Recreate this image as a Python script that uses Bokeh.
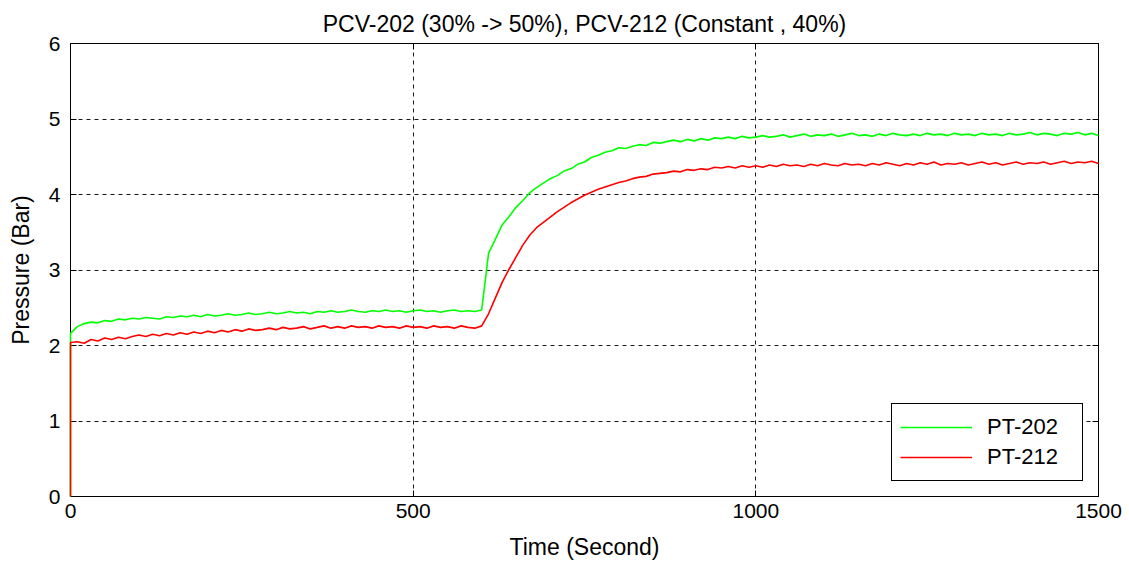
from bokeh.plotting import figure
from bokeh.models import LinearAxis, Legend, LegendItem, FixedTicker, Range1d
from bokeh.embed import file_html
from bokeh.resources import INLINE

# Sample times (s): a leading 0 for the initial jump, then every 10 s
time_s = [0] + list(range(0, 1501, 10))

pt_202 = [0.0,
    2.16, 2.25, 2.29, 2.31, 2.30, 2.33, 2.32, 2.35, 2.34, 2.36,
    2.35, 2.37, 2.36, 2.35, 2.38, 2.37, 2.39, 2.38, 2.40, 2.38,
    2.41, 2.39, 2.40, 2.42, 2.40, 2.41, 2.43, 2.41, 2.42, 2.44,
    2.42, 2.43, 2.45, 2.43, 2.44, 2.42, 2.45, 2.44, 2.46, 2.44,
    2.45, 2.47, 2.45, 2.44, 2.46, 2.45, 2.47, 2.45, 2.46, 2.44,
    2.46, 2.47, 2.45, 2.46, 2.44, 2.46, 2.47, 2.45, 2.46, 2.45,
    2.47, 3.22, 3.41, 3.60, 3.71, 3.83, 3.92, 4.02, 4.09, 4.15,
    4.21, 4.25, 4.31, 4.34, 4.40, 4.43, 4.49, 4.52, 4.56, 4.58,
    4.62, 4.61, 4.64, 4.66, 4.65, 4.69, 4.68, 4.70, 4.72, 4.70,
    4.73, 4.71, 4.74, 4.72, 4.75, 4.74, 4.76, 4.74, 4.77, 4.75,
    4.76, 4.78, 4.76, 4.77, 4.79, 4.76, 4.78, 4.80, 4.77, 4.79,
    4.78, 4.80, 4.77, 4.79, 4.81, 4.78, 4.79, 4.77, 4.80, 4.78,
    4.81, 4.79, 4.78, 4.80, 4.78, 4.81, 4.79, 4.80, 4.78, 4.81,
    4.79, 4.80, 4.78, 4.81, 4.79, 4.80, 4.78, 4.81, 4.79, 4.80,
    4.82, 4.79, 4.81, 4.80, 4.78, 4.81, 4.80, 4.82, 4.79, 4.81,
    4.78]

pt_212 = [0.0,
    2.04, 2.05, 2.03, 2.08, 2.06, 2.10, 2.08, 2.11, 2.09, 2.12,
    2.14, 2.12, 2.15, 2.13, 2.16, 2.14, 2.17, 2.15, 2.18, 2.16,
    2.19, 2.17, 2.20, 2.18, 2.21, 2.19, 2.22, 2.20, 2.21, 2.23,
    2.21, 2.24, 2.22, 2.23, 2.25, 2.22, 2.24, 2.26, 2.23, 2.25,
    2.23, 2.26, 2.24, 2.25, 2.23, 2.26, 2.24, 2.25, 2.23, 2.26,
    2.24, 2.25, 2.23, 2.26, 2.24, 2.25, 2.23, 2.26, 2.24, 2.23,
    2.26, 2.42, 2.63, 2.84, 3.01, 3.17, 3.33, 3.46, 3.56, 3.63,
    3.70, 3.77, 3.83, 3.89, 3.94, 3.99, 4.03, 4.07, 4.10, 4.13,
    4.16, 4.18, 4.21, 4.23, 4.24, 4.27, 4.28, 4.29, 4.31, 4.30,
    4.33, 4.32, 4.34, 4.33, 4.36, 4.35, 4.37, 4.35, 4.38, 4.36,
    4.38, 4.36, 4.39, 4.37, 4.40, 4.38, 4.39, 4.37, 4.40, 4.38,
    4.41, 4.39, 4.38, 4.41, 4.39, 4.40, 4.38, 4.41, 4.39, 4.42,
    4.40, 4.38, 4.41, 4.39, 4.42, 4.40, 4.43, 4.39, 4.41, 4.40,
    4.42, 4.39, 4.41, 4.43, 4.40, 4.42, 4.39, 4.41, 4.43, 4.40,
    4.42, 4.41, 4.43, 4.40, 4.42, 4.44, 4.41, 4.43, 4.42, 4.44,
    4.41]

x_ticks = [0, 500, 1000, 1500]
y_ticks = [0, 1, 2, 3, 4, 5, 6]

FONT = "Liberation Sans"

p = figure(width=1129, height=564, x_range=Range1d(0, 1500), y_range=Range1d(0, 6),
           output_backend="svg", toolbar_location=None,
           min_border_left=70, min_border_right=31, min_border_top=43, min_border_bottom=68,
           background_fill_color="white", border_fill_color="white")

p.title.text = "PCV-202 (30% -> 50%), PCV-212 (Constant , 40%)"
p.title.align = "center"
p.title.text_font = FONT
p.title.text_font_size = "23px"
p.title.text_font_style = "normal"
p.title.text_color = "black"
p.title.standoff = 14

g = p.line(time_s, pt_202, line_color="#00ff00", line_width=1.6, level="overlay")
r = p.line(time_s, pt_212, line_color="#ff0000", line_width=1.6, level="overlay")

for ax in (p.xaxis[0], p.yaxis[0]):
    ax.major_tick_in = 6
    ax.major_tick_out = 0
    ax.minor_tick_in = 0
    ax.minor_tick_out = 0
    ax.axis_line_color = "black"
    ax.major_tick_line_color = "black"
    ax.major_label_text_font = FONT
    ax.major_label_text_font_size = "21px"
    ax.major_label_text_color = "black"
    ax.axis_label_text_font = FONT
    ax.axis_label_text_font_size = "23px"
    ax.axis_label_text_font_style = "normal"
    ax.axis_label_text_color = "black"

p.xaxis[0].ticker = FixedTicker(ticks=x_ticks)
p.yaxis[0].ticker = FixedTicker(ticks=y_ticks)
p.xaxis[0].axis_label = "Time (Second)"
p.yaxis[0].axis_label = "Pressure (Bar)"
p.xaxis[0].major_label_standoff = 7
p.yaxis[0].major_label_standoff = 10
p.xaxis[0].axis_label_standoff = 13
p.yaxis[0].axis_label_standoff = 12

for loc, tk in (("right", y_ticks), ("above", x_ticks)):
    a = LinearAxis(ticker=FixedTicker(ticks=tk), major_tick_in=6, major_tick_out=0,
                   minor_tick_in=0, minor_tick_out=0,
                   major_label_overrides={t: "" for t in tk},
                   major_label_standoff=0, axis_line_color="black", major_tick_line_color="black")
    p.add_layout(a, loc)

p.xgrid.ticker = FixedTicker(ticks=[500, 1000])
p.ygrid.ticker = FixedTicker(ticks=[1, 2, 3, 4, 5])
for gr in (p.xgrid[0], p.ygrid[0]):
    gr.grid_line_color = "black"
    gr.grid_line_dash = "4 4"
    gr.grid_line_width = 1
    gr.grid_line_alpha = 0.9

p.outline_line_color = "black"
p.outline_line_width = 1
p.outline_line_alpha = 1

legend = Legend(items=[LegendItem(label="PT-202", renderers=[g]),
                       LegendItem(label="PT-212", renderers=[r])],
                location="bottom_right")
legend.margin = 15
legend.padding = 8
legend.spacing = 0
legend.glyph_width = 72
legend.glyph_height = 30
legend.label_height = 30
legend.label_width = 87
legend.label_standoff = 15
legend.label_text_font = FONT
legend.label_text_font_size = "22px"
legend.label_text_color = "black"
legend.border_line_color = "black"
legend.border_line_width = 1
legend.border_line_alpha = 1
legend.background_fill_alpha = 1
p.add_layout(legend)

open("out.html", "w").write(file_html(p, INLINE))
